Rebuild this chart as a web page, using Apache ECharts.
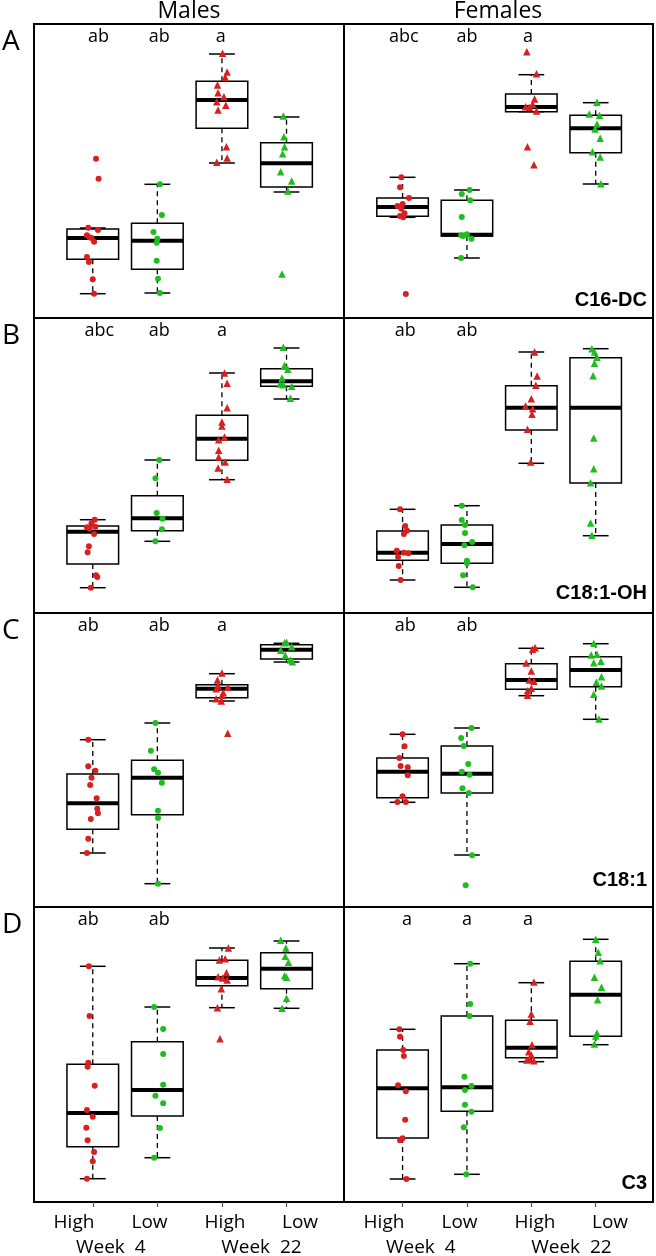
<!DOCTYPE html>
<html><head><meta charset="utf-8">
<script src="https://cdn.jsdelivr.net/npm/echarts@6/dist/echarts.min.js"></script>
<style>html,body{margin:0;padding:0;background:#fff}#c{width:656px;height:1256px}</style>
</head><body><div id="c"></div>
<script>
// ---------- labels ----------
const sexes = ['Males', 'Females'];
const rowLetters = ['A', 'B', 'C', 'D'];
const metabolites = ['C16-DC', 'C18:1-OH', 'C18:1', 'C3'];
const groupLabels = ['High', 'Low', 'High', 'Low'];
const weekLabels = ['Week  4', 'Week  22'];

// ---------- box stats [min, q1, median, q3, max] per group (High W4, Low W4, High W22, Low W22) ----------
const boxA_M = [[24.3,58.7,80,89,90],[25,48.7,77.3,94.7,133.7],[155,189.7,218,236.7,264],[126,131,154.7,175.3,201]];
const boxA_F = [[100.7,101.7,111,120,140.7],[60,82,83.3,117.7,128],[206.3,206.3,211,224,243.3],[134,165.3,189.7,202.7,215.3]];
const boxB_M = [[25.3,49,81.3,87,93.3],[71.7,82.3,94.7,117.3,153],[133.3,152.7,174.3,197.7,240],[214,226.7,231.7,244.3,265]];
const boxB_F = [[33,52.7,60.3,82,103.7],[25.7,49.7,69,88,107.3],[149.7,183,205.3,227.3,261],[77.3,130,205.3,255.3,264.3]];
const boxC_M = [[54,77.7,103.7,133,167.3],[23.3,92.3,129.3,146.7,184],[206,209.3,218.3,222.3,233.3],[245,248,257.3,262.3,263.7]];
const boxC_F = [[104.7,109.3,135.3,149,172.7],[52,114,133.3,161,179],[211.3,217.7,227,243.3,258.7],[187.7,220.3,237,250.3,263.3]];
const boxD_M = [[23.3,55.3,89,137.7,235.7],[44.3,86,112,160.3,195],[194.3,216.3,224,241.7,254],[193.7,213.3,233.3,249.3,261]];
const boxD_F = [[23,64,113.7,152,172.7],[27.7,90.7,114.7,186,238.3],[140.3,144.3,154.3,181.7,219.3],[157.3,165.7,207.3,240.7,262.7]];

// ---------- individual values per group ----------
const valsA_M = [
  [159.3,139.3,90.3,88,82.7,80.7,76.3,61,56,38.7,24.3,80],
  [133.7,103,86,79.3,75.3,57.3,39.3,25],
  [264.7,246,240.7,233,225.3,221.3,216.3,212.7,208,171.3,160,155.7],
  [202,181.3,171.3,164.3,146.3,137,127,44]];
const valsA_F = [
  [140.7,130.7,120,114,112,109.3,104.7,100.7,102,24],
  [128,124,117.7,101,82.7,82,83.7,79.3,60],
  [266.3,244.3,219,213.7,211.3,210.7,207,171.3,153.3],
  [215.7,204,202.7,194,189,179.7,166.3,161,134.3]];
const valsB_M = [
  [93.3,89.7,85.7,84.3,86.3,79,66.7,60.7,37.7,36,25.3],
  [153,134.7,100,94.3,83.7,71.7],
  [240,229.7,205.3,191,187,176,173.3,162.7,156,151,145,133.7],
  [265.7,247.7,243.7,235,229,228.3,226.7,214.7]];
const valsB_F = [
  [103.7,87,82.3,79,62.3,60.3,59.7,56,47,33],
  [107.3,93,88,80,71,67.7,52.3,49.7,37.7,25.7],
  [261,237,227.7,214.3,207,204.3,198.7,183.7,151],
  [264.3,261,255.7,249.7,237.3,175,144.3,130.3,90,77.7]];
const valsC_M = [
  [167.3,140.7,136.3,129.3,122,108.7,98.3,93.7,88,68.3,54],
  [184,156.3,137.7,134.3,124.3,96.3,89,23.3],
  [234,227,221,218.3,219.7,214.3,211.7,208.3,206,173.7],
  [264.3,264.7,260.3,256.7,251.7,247,245.3]];
const valsC_F = [
  [172.7,160.7,149,141,139.7,131.7,110.7,105,105],
  [179,169,161,143,135.3,132.3,118.7,114,51.7,21.7],
  [259.3,257.7,244,236,227,225.7,218.7,216.3,211.7],
  [263.7,252,252.7,244.3,245.7,224.7,230.3,221,212.7,188]];
const valsD_M = [
  [235.7,186,139.3,135.3,116.3,92,85.3,74.3,61.7,50,40.7,23.3],
  [195,173,148,117.3,106.3,98.7,74,44.3],
  [254,242,243.3,229.3,225.3,224,222,213.3,194.3,163.3],
  [261.7,254,245.7,239.7,226.3,224.7,203.7,193.7]];
const valsD_F = [
  [172.7,165.3,152,146,116.7,110.7,82.3,63.7,61.7,23],
  [238.3,198,186,125.3,116,112,97.3,90.3,74.7,27.7],
  [220,188,180.7,157.3,150.3,142,141.3,142.7,147],
  [262.7,249.7,241.3,224.7,214.7,202.3,169,166,158]];

// ---------- horizontal jitter (x-axis units) ----------
const jitA_M = [
  [.05,.09,-.07,.08,-.09,-.05,.02,-.09,-.06,0,.02,-.02],
  [.04,.07,-.06,0,-.01,-.01,.01,.04],
  [.01,.08,.05,-.07,-.06,.03,-.08,.06,-.06,.07,.08,-.08],
  [-.05,-.04,-.03,-.06,-.09,.08,.02,-.07]];
const jitA_F = [
  [-.02,-.04,.1,0,-.08,-.02,.03,.01,-.04,.05],
  [.04,-.08,.05,-.08,-.09,-.06,0,.07,-.09],
  [-.07,.08,.05,.02,-.09,-.03,.08,-.06,.04],
  [.02,-.1,.06,.02,-.01,.07,-.05,.07,.08]];
const jitB_M = [
  [.03,-.02,-.09,-.05,.04,.02,-.06,-.08,.05,.07,-.03],
  [.03,-.03,-.01,.08,.07,-.03],
  [.04,.08,.08,0,0,.04,-.05,-.05,-.05,.05,-.06,.08],
  [-.05,-.03,.02,-.07,-.1,-.05,.08,.06]];
const jitB_F = [
  [-.04,.04,.07,.02,-.09,.02,.09,-.07,-.06,-.03],
  [-.08,-.08,-.03,-.03,.08,-.04,0,0,-.06,.09],
  [.05,.09,.07,0,-.09,.02,.01,-.06,-.01],
  [-.06,-.02,.02,-.02,-.04,-.03,-.03,-.08,-.08,-.06]];
const jitC_M = [
  [-.07,-.07,.04,-.02,-.04,.06,.07,.08,-.03,-.07,-.09],
  [-.03,-.1,-.05,.01,.07,.01,.01,.01],
  [0,-.07,-.06,-.09,.09,.02,0,-.09,-.01,.09],
  [-.03,0,.08,-.09,-.02,.06,.09]];
const jitC_F = [
  [0,.03,-.05,-.03,.08,.08,0,-.08,.05],
  [.07,-.09,-.05,.02,-.08,.04,-.07,.03,.08,-.02],
  [.06,.02,-.08,0,-.03,.04,0,-.06,-.06],
  [-.03,-.07,.02,-.03,.08,.01,.09,.09,-.03,.05]];
const jitD_M = [
  [-.06,-.05,-.07,-.08,.03,-.09,0,-.1,-.08,.02,0,-.09],
  [-.05,.09,.09,.09,-.03,.09,.04,-.05],
  [.1,-.04,.05,.07,-.06,.01,.08,-.01,-.07,-.03],
  [-.09,-.01,-.02,.03,-.03,0,0,-.07]];
const jitD_F = [
  [-.05,-.04,.01,.02,-.07,.05,.04,0,-.04,.06],
  [.05,.05,.04,-.04,.07,-.03,-.03,.07,-.05,-.01],
  [.04,0,-.02,.01,-.04,-.07,.04,-.03,0],
  [0,.04,.07,-.02,.09,.03,.02,0,-.02]];

// ---------- significance letters and their x positions ----------
const sigA_M = ['ab','ab','a'];   const sigXA_M = [1.09, 2.03, 2.98];
const sigA_F = ['abc','ab','a'];  const sigXA_F = [1.02, 2.0, 2.95];
const sigB_M = ['abc','ab','a'];  const sigXB_M = [1.10, 2.03, 3.0];
const sigB_F = ['ab','ab'];       const sigXB_F = [1.04, 2.0];
const sigC_M = ['ab','ab','a'];   const sigXC_M = [0.93, 2.03, 3.0];
const sigC_F = ['ab','ab'];       const sigXC_F = [1.04, 2.0];
const sigD_M = ['ab','ab'];       const sigXD_M = [0.93, 2.03];
const sigD_F = ['a','a','a'];     const sigXD_F = [1.07, 2.0, 2.95];

// ---------- assemble ----------
const boxes = [[boxA_M, boxA_F], [boxB_M, boxB_F], [boxC_M, boxC_F], [boxD_M, boxD_F]];
const vals  = [[valsA_M, valsA_F], [valsB_M, valsB_F], [valsC_M, valsC_F], [valsD_M, valsD_F]];
const jits  = [[jitA_M, jitA_F], [jitB_M, jitB_F], [jitC_M, jitC_F], [jitD_M, jitD_F]];
const sigs  = [[sigA_M, sigA_F], [sigB_M, sigB_F], [sigC_M, sigC_F], [sigD_M, sigD_F]];
const sigXs = [[sigXA_M, sigXA_F], [sigXB_M, sigXB_F], [sigXC_M, sigXC_F], [sigXD_M, sigXD_F]];

const RED = '#D92020', GREEN = '#1FBE1F';
const colLeft = [34, 344], colWidth = [310, 309];
const rowTop = [24, 318, 613, 907], rowH = [294, 295, 294, 295];
const XMIN = 0.09, XMAX = 4.89;
const FONT = '"Open Sans", "Noto Sans", sans-serif';

function renderBox(params, api) {
  const x = api.value(0);
  const lo = api.value(1), q1 = api.value(2), md = api.value(3), q3 = api.value(4), hi = api.value(5);
  const c = (xx, yy) => api.coord([xx, yy]);
  const solid = { stroke: '#000', lineWidth: 1.5 };
  const dash = { stroke: '#000', lineWidth: 1.3, lineDash: [5, 4] };
  const line = (a, b, style) => ({ type: 'line', shape: { x1: a[0], y1: a[1], x2: b[0], y2: b[1] }, style });
  const ch = [];
  if (hi > q3) ch.push(line(c(x, q3), c(x, hi), dash));
  if (lo < q1) ch.push(line(c(x, q1), c(x, lo), dash));
  ch.push(line(c(x - 0.2, hi), c(x + 0.2, hi), solid));
  ch.push(line(c(x - 0.2, lo), c(x + 0.2, lo), solid));
  const tl = c(x - 0.4, q3), br = c(x + 0.4, q1);
  ch.push({ type: 'rect', shape: { x: tl[0], y: tl[1], width: br[0] - tl[0], height: br[1] - tl[1] },
            style: { stroke: '#000', lineWidth: 1.5, fill: null } });
  ch.push(line(c(x - 0.4, md), c(x + 0.4, md), { stroke: '#000', lineWidth: 4 }));
  return { type: 'group', children: ch };
}

const grid = [], xAxis = [], yAxis = [], series = [], graphic = [];
for (let r = 0; r < 4; r++) {
  for (let s = 0; s < 2; s++) {
    const p = grid.length;
    grid.push({ left: colLeft[s], top: rowTop[r], width: colWidth[s], height: rowH[r],
                show: true, borderColor: '#000', borderWidth: 2, backgroundColor: 'transparent' });
    xAxis.push({ type: 'value', gridIndex: p, min: XMIN, max: XMAX,
      axisLine: { show: false }, splitLine: { show: false }, axisLabel: { show: false },
      axisTick: { show: r === 3, customValues: [1, 2, 3, 4], length: 5, lineStyle: { color: '#555', width: 1.2 } } });
    yAxis.push({ type: 'value', gridIndex: p, min: 0, max: rowH[r], show: false });

    series.push({ type: 'custom', xAxisIndex: p, yAxisIndex: p, z: 2, silent: true,
      renderItem: renderBox, data: boxes[r][s].map((b, i) => [i + 1, ...b]) });

    for (let g = 0; g < 4; g++) {
      series.push({ type: 'scatter', xAxisIndex: p, yAxisIndex: p, z: 3, silent: true,
        symbol: g < 2 ? 'circle' : 'triangle', symbolSize: g < 2 ? 6 : 7.5,
        itemStyle: { color: g % 2 === 0 ? RED : GREEN, opacity: 1 },
        data: vals[r][s][g].map((v, k) => [g + 1 + jits[r][s][g][k], v]) });
    }

    series.push({ type: 'scatter', xAxisIndex: p, yAxisIndex: p, z: 4, silent: true, symbolSize: 0,
      itemStyle: { opacity: 1, color: '#000' },
      data: sigs[r][s].map((t, i) => [sigXs[r][s][i], rowH[r] - 13, t]),
      label: { show: true, position: 'inside', formatter: q => q.value[2],
               fontSize: 18, fontFamily: FONT, color: '#000', textBorderWidth: 0 } });
  }
  // row letter
  graphic.push({ type: 'text', left: 2, top: rowTop[r] + 4,
    style: { text: rowLetters[r], font: '28px ' + FONT, fill: '#000' } });
  // metabolite label
  const mb = [11, 13, 20, 12][r];
  graphic.push({ type: 'text', x: colLeft[1] + colWidth[1] - 6, y: rowTop[r] + rowH[r] - mb - 7,
    style: { text: metabolites[r], font: 'bold 20px "Liberation Sans", Arial, sans-serif', fill: '#000',
             textAlign: 'right', textVerticalAlign: 'middle' } });
}
// column titles
[189, 498].forEach((cx, s) => graphic.push({ type: 'text', x: cx, y: 11,
  style: { text: sexes[s], font: '23px ' + FONT, fill: '#000', textAlign: 'center', textVerticalAlign: 'middle' } }));
// bottom group labels
const glOff = [40, 115.5, 191, 266], wkOff = [76.75, 227.4];
for (let s = 0; s < 2; s++) {
  groupLabels.forEach((t, i) => graphic.push({ type: 'text', x: colLeft[s] + glOff[i], y: 1223,
    style: { text: t, font: '19px ' + FONT, fill: '#000', textAlign: 'center', textVerticalAlign: 'middle' } }));
  weekLabels.forEach((t, i) => graphic.push({ type: 'text', x: colLeft[s] + wkOff[i], y: 1248,
    style: { text: t, font: '19px ' + FONT, fill: '#000', textAlign: 'center', textVerticalAlign: 'middle' } }));
}

const chart = echarts.init(document.getElementById('c'), null, { renderer: 'canvas' });
chart.setOption({ animation: false, backgroundColor: '#fff', grid, xAxis, yAxis, series, graphic });
</script></body></html>
